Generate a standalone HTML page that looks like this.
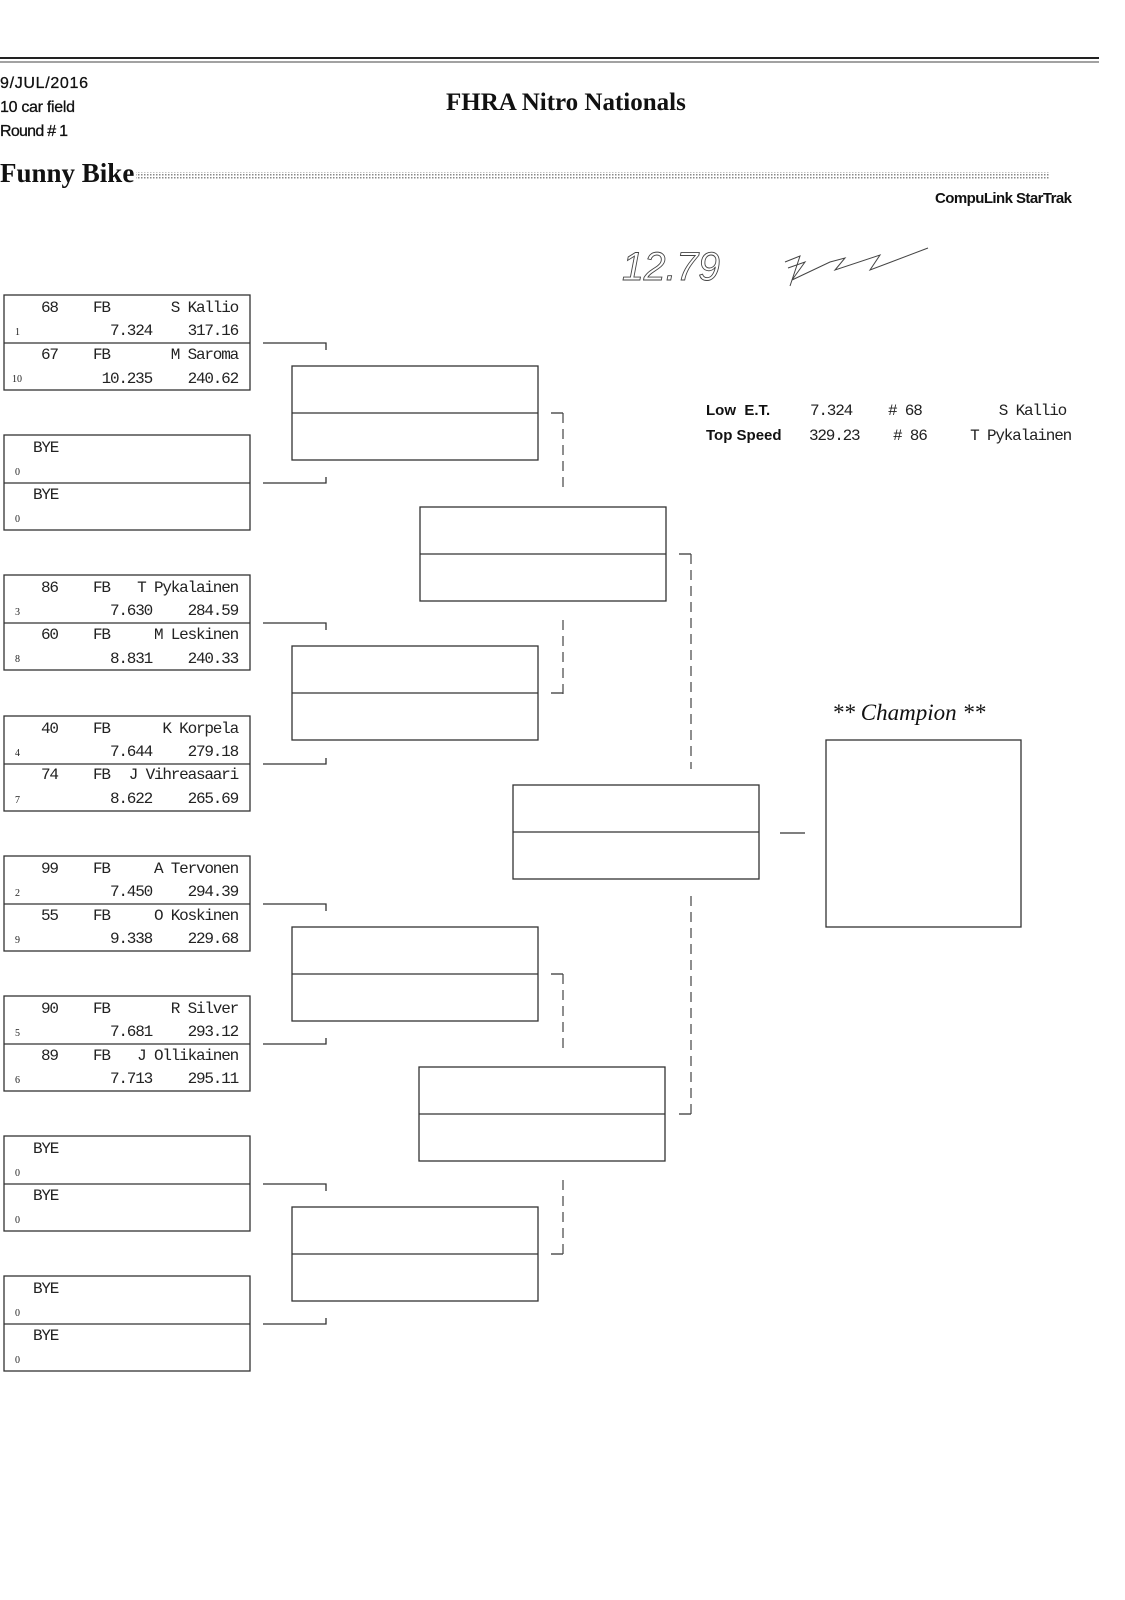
<!DOCTYPE html>
<html><head><meta charset="utf-8"><style>
html,body{margin:0;padding:0;background:#fff;}
svg{display:block;}
.m{font-family:"Liberation Mono",monospace;font-size:16px;letter-spacing:-1.2px;fill:#222;}
.s{font-family:"Liberation Serif",serif;font-size:10px;fill:#222;}
.h{font-family:"Liberation Sans",sans-serif;fill:#111;}
</style></head><body>
<svg width="1125" height="1600" viewBox="0 0 1125 1600" xmlns="http://www.w3.org/2000/svg">
<defs><pattern id="dots" width="3" height="3" patternUnits="userSpaceOnUse"><rect width="3" height="3" fill="#fff"/><rect width="1.5" height="1.5" fill="#888"/></pattern></defs>
<line x1="0" y1="58" x2="1099" y2="58" stroke="#222" stroke-width="2"/>
<line x1="0" y1="62" x2="1099" y2="62" stroke="#444" stroke-width="1"/>
<text class="h" x="0" y="88" font-size="16" stroke="#111" stroke-width="0.3" textLength="88">9/JUL/2016</text>
<text class="h" x="0" y="112" font-size="16" stroke="#111" stroke-width="0.3" textLength="75">10 car field</text>
<text class="h" x="0" y="136" font-size="16" stroke="#111" stroke-width="0.3" textLength="68">Round # 1</text>
<text x="446" y="110" font-family="Liberation Serif,serif" font-weight="bold" font-size="25" fill="#111">FHRA Nitro Nationals</text>
<text x="0" y="182" font-family="Liberation Serif,serif" font-weight="bold" font-size="27" fill="#111">Funny Bike</text>
<rect x="136" y="172" width="913" height="8" fill="url(#dots)"/>
<text class="h" x="935" y="203" font-size="15" font-weight="bold" textLength="137">CompuLink StarTrak</text>
<text x="622" y="280" font-family="Liberation Sans,sans-serif" font-size="40" fill="none" stroke="#444" stroke-width="0.9" style="font-style:italic" textLength="98" lengthAdjust="spacingAndGlyphs">12.79</text>
<path d="M785 262 L800 256 L790 286 M788 268 L805 262 L792 280 L830 262 L845 258 L835 270 L880 255 L870 270 L928 248" fill="none" stroke="#444" stroke-width="1"/>

<text class="h" x="706" y="415" font-size="15" font-weight="bold">Low&#160;&#160;E.T.</text>
<text class="h" x="706" y="440" font-size="15" font-weight="bold">Top Speed</text>
<text class="m" x="810" y="415">7.324</text>
<text class="m" x="888" y="415"># 68</text>
<text class="m" x="1066" y="415" text-anchor="end">S Kallio</text>
<text class="m" x="809" y="440">329.23</text>
<text class="m" x="893" y="440"># 86</text>
<text class="m" x="1071" y="440" text-anchor="end">T Pykalainen</text>

<g fill="none" stroke="#333" stroke-width="1.3">
<rect x="4" y="295" width="246" height="95"/><line x1="4" y1="343" x2="250" y2="343"/>
<rect x="4" y="435" width="246" height="95"/><line x1="4" y1="483" x2="250" y2="483"/>
<rect x="4" y="575" width="246" height="95"/><line x1="4" y1="623" x2="250" y2="623"/>
<rect x="4" y="716" width="246" height="95"/><line x1="4" y1="764" x2="250" y2="764"/>
<rect x="4" y="856" width="246" height="95"/><line x1="4" y1="904" x2="250" y2="904"/>
<rect x="4" y="996" width="246" height="95"/><line x1="4" y1="1044" x2="250" y2="1044"/>
<rect x="4" y="1136" width="246" height="95"/><line x1="4" y1="1184" x2="250" y2="1184"/>
<rect x="4" y="1276" width="246" height="95"/><line x1="4" y1="1324" x2="250" y2="1324"/>
<path d="M263 343H326V350 M263 483H326V477 M263 623H326V630 M263 764H326V758 M263 904H326V911 M263 1044H326V1038 M263 1184H326V1191 M263 1324H326V1318"/>
<rect x="292" y="366" width="246" height="94"/><line x1="292" y1="413" x2="538" y2="413"/>
<rect x="292" y="646" width="246" height="94"/><line x1="292" y1="693" x2="538" y2="693"/>
<rect x="292" y="927" width="246" height="94"/><line x1="292" y1="974" x2="538" y2="974"/>
<rect x="292" y="1207" width="246" height="94"/><line x1="292" y1="1254" x2="538" y2="1254"/>
<path d="M551 413H563 M551 693H563 M551 974H563 M551 1254H563 M679 554H691 M679 1114H691"/>
<rect x="420" y="507" width="246" height="94"/><line x1="420" y1="554" x2="666" y2="554"/>
<rect x="419" y="1067" width="246" height="94"/><line x1="419" y1="1114" x2="665" y2="1114"/>
<rect x="513" y="785" width="246" height="94"/><line x1="513" y1="832" x2="759" y2="832"/>
<line x1="780" y1="833" x2="805" y2="833"/>
<rect x="826" y="740" width="195" height="187"/>
</g>
<g fill="none" stroke="#444" stroke-width="1.2" stroke-dasharray="10,6">
<path d="M563 413V491 M563 694V617 M563 974V1052 M563 1254V1178 M691 554V769 M691 1114V896"/>
</g>
<text x="832" y="720" font-family="Liberation Serif,serif" font-style="italic" font-size="23" fill="#111">** Champion **</text>

<g class="m">
<text x="41" y="312">68</text><text x="93" y="312">FB</text><text x="238" y="312" text-anchor="end">S Kallio</text>
<text x="152" y="335" text-anchor="end">7.324</text><text x="238" y="335" text-anchor="end">317.16</text>
<text x="41" y="359">67</text><text x="93" y="359">FB</text><text x="238" y="359" text-anchor="end">M Saroma</text>
<text x="152" y="383" text-anchor="end">10.235</text><text x="238" y="383" text-anchor="end">240.62</text>

<text x="33" y="452">BYE</text><text x="33" y="499">BYE</text>

<text x="41" y="592">86</text><text x="93" y="592">FB</text><text x="238" y="592" text-anchor="end">T Pykalainen</text>
<text x="152" y="615" text-anchor="end">7.630</text><text x="238" y="615" text-anchor="end">284.59</text>
<text x="41" y="639">60</text><text x="93" y="639">FB</text><text x="238" y="639" text-anchor="end">M Leskinen</text>
<text x="152" y="663" text-anchor="end">8.831</text><text x="238" y="663" text-anchor="end">240.33</text>

<text x="41" y="733">40</text><text x="93" y="733">FB</text><text x="238" y="733" text-anchor="end">K Korpela</text>
<text x="152" y="756" text-anchor="end">7.644</text><text x="238" y="756" text-anchor="end">279.18</text>
<text x="41" y="779">74</text><text x="93" y="779">FB</text><text x="238" y="779" text-anchor="end">J Vihreasaari</text>
<text x="152" y="803" text-anchor="end">8.622</text><text x="238" y="803" text-anchor="end">265.69</text>

<text x="41" y="873">99</text><text x="93" y="873">FB</text><text x="238" y="873" text-anchor="end">A Tervonen</text>
<text x="152" y="896" text-anchor="end">7.450</text><text x="238" y="896" text-anchor="end">294.39</text>
<text x="41" y="920">55</text><text x="93" y="920">FB</text><text x="238" y="920" text-anchor="end">O Koskinen</text>
<text x="152" y="943" text-anchor="end">9.338</text><text x="238" y="943" text-anchor="end">229.68</text>

<text x="41" y="1013">90</text><text x="93" y="1013">FB</text><text x="238" y="1013" text-anchor="end">R Silver</text>
<text x="152" y="1036" text-anchor="end">7.681</text><text x="238" y="1036" text-anchor="end">293.12</text>
<text x="41" y="1060">89</text><text x="93" y="1060">FB</text><text x="238" y="1060" text-anchor="end">J Ollikainen</text>
<text x="152" y="1083" text-anchor="end">7.713</text><text x="238" y="1083" text-anchor="end">295.11</text>

<text x="33" y="1153">BYE</text><text x="33" y="1200">BYE</text>
<text x="33" y="1293">BYE</text><text x="33" y="1340">BYE</text>
</g>
<g class="s">
<text x="15" y="335">1</text><text x="12" y="382">10</text>
<text x="15" y="475">0</text><text x="15" y="522">0</text>
<text x="15" y="615">3</text><text x="15" y="662">8</text>
<text x="15" y="756">4</text><text x="15" y="803">7</text>
<text x="15" y="896">2</text><text x="15" y="943">9</text>
<text x="15" y="1036">5</text><text x="15" y="1083">6</text>
<text x="15" y="1176">0</text><text x="15" y="1223">0</text>
<text x="15" y="1316">0</text><text x="15" y="1363">0</text>
</g>
</svg>
</body></html>
